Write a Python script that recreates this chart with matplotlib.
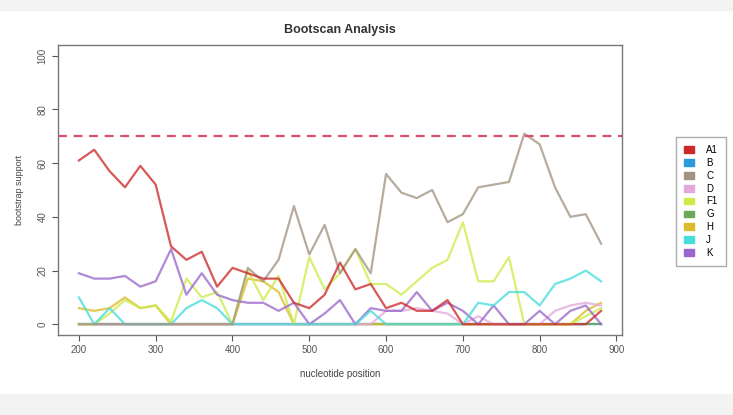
import matplotlib
matplotlib.use("Agg")
import matplotlib.pyplot as plt
from matplotlib.patches import Patch, Rectangle

plt.rcParams['font.family'] = ['Liberation Sans', 'DejaVu Sans']

positions = list(range(200, 881, 20))

A1 = [61, 65, 57, 51, 59, 52, 29, 24, 27, 14, 21, 19, 17, 17, 8, 6, 11, 23, 13, 15,
      6, 8, 5, 5, 9, 0, 0, 0, 0, 0, 0, 0, 0, 0, 5]
B = [0] * 35
C = [0, 0, 0, 0, 0, 0, 0, 0, 0, 0, 0, 21, 16, 24, 44, 26, 37, 19, 28, 19,
     56, 49, 47, 50, 38, 41, 51, 52, 53, 71, 67, 51, 40, 41, 30]
D = [0, 0, 0, 0, 0, 0, 0, 0, 0, 0, 0, 0, 0, 0, 0, 0, 0, 0, 0, 0,
     5, 5, 6, 5, 4, 0, 3, 0, 0, 0, 0, 5, 7, 8, 7]
F1 = [0, 0, 4, 9, 6, 7, 1, 17, 10, 12, 0, 20, 9, 18, 0, 25, 13, 19, 28, 15,
      15, 11, 16, 21, 24, 38, 16, 16, 25, 0, 0, 0, 0, 3, 6]
G = [0] * 35
H = [6, 5, 6, 10, 6, 7, 0, 0, 0, 0, 0, 17, 16, 12, 0, 0, 0, 0, 0, 0,
     0, 0, 0, 0, 0, 0, 0, 0, 0, 0, 0, 0, 0, 5, 8]
J = [10, 0, 6, 0, 0, 0, 0, 6, 9, 6, 0, 0, 0, 0, 0, 0, 0, 0, 0, 5,
     0, 0, 0, 0, 0, 0, 8, 7, 12, 12, 7, 15, 17, 20, 16]
K = [19, 17, 17, 18, 14, 16, 28, 11, 19, 11, 9, 8, 8, 5, 8, 0, 4, 9, 0, 6,
     5, 5, 12, 5, 8, 5, 0, 7, 0, 0, 5, 0, 5, 7, 0]

names = ["A1", "B", "C", "D", "F1", "G", "H", "J", "K"]
series = [A1, B, C, D, F1, G, H, J, K]
colors = ["#cc2a2a", "#2a9ad8", "#a39482", "#e2aadc", "#cdec4a",
          "#6aa85a", "#dcbc2a", "#48dcdc", "#9a68cc"]
threshold = 70

fig = plt.figure(figsize=(7.33, 4.15), dpi=100)
fig.patches.append(Rectangle((0, 0.975), 1, 0.025, transform=fig.transFigure,
                             color="#f3f3f3", zorder=-1))
fig.patches.append(Rectangle((0, 0), 1, 0.05, transform=fig.transFigure,
                             color="#f3f3f3", zorder=-1))
ax = fig.add_axes([58 / 733, 1 - 335 / 415, (622 - 58) / 733, (335 - 45) / 415])

# flat ones first, cyan last among them so the zero line reads cyan
order = [1, 5, 6, 3, 4, 8, 7, 2, 0]
for i in order:
    ax.plot(positions, series[i], color=colors[i], lw=1.6, alpha=0.78)

ax.axhline(threshold, color="#d9506a", lw=1.6, ls=(0, (4, 3)))

ax.set_xlim(172.8, 907.2)
ax.set_ylim(-4, 104)
ax.set_xticks(range(200, 901, 100))
ax.set_yticks(range(0, 101, 20))
ax.tick_params(labelsize=7, colors="#555555", length=4, width=0.8)
plt.setp(ax.get_yticklabels(), rotation=90, va="center")
for s in ax.spines.values():
    s.set_color("#777777")
    s.set_linewidth(1.0)

ax.set_title("Bootscan Analysis", fontsize=9, fontweight="bold", color="#333333", pad=9)
ax.set_xlabel("nucleotide position", fontsize=7, color="#444444", labelpad=10)
ax.set_ylabel("bootstrap support", fontsize=6.5, color="#444444", labelpad=10)

handles = [Patch(facecolor=c, edgecolor=c) for c in colors]
fig.legend(handles, names, loc="upper left", bbox_to_anchor=(676 / 733, 1 - 137 / 415),
           fontsize=7, frameon=True, edgecolor="#999999", fancybox=False,
           handlelength=1.0, handleheight=0.7, handletextpad=1.3,
           labelspacing=0.3, borderpad=0.8, borderaxespad=0)

fig.savefig("out.png", dpi=100)
